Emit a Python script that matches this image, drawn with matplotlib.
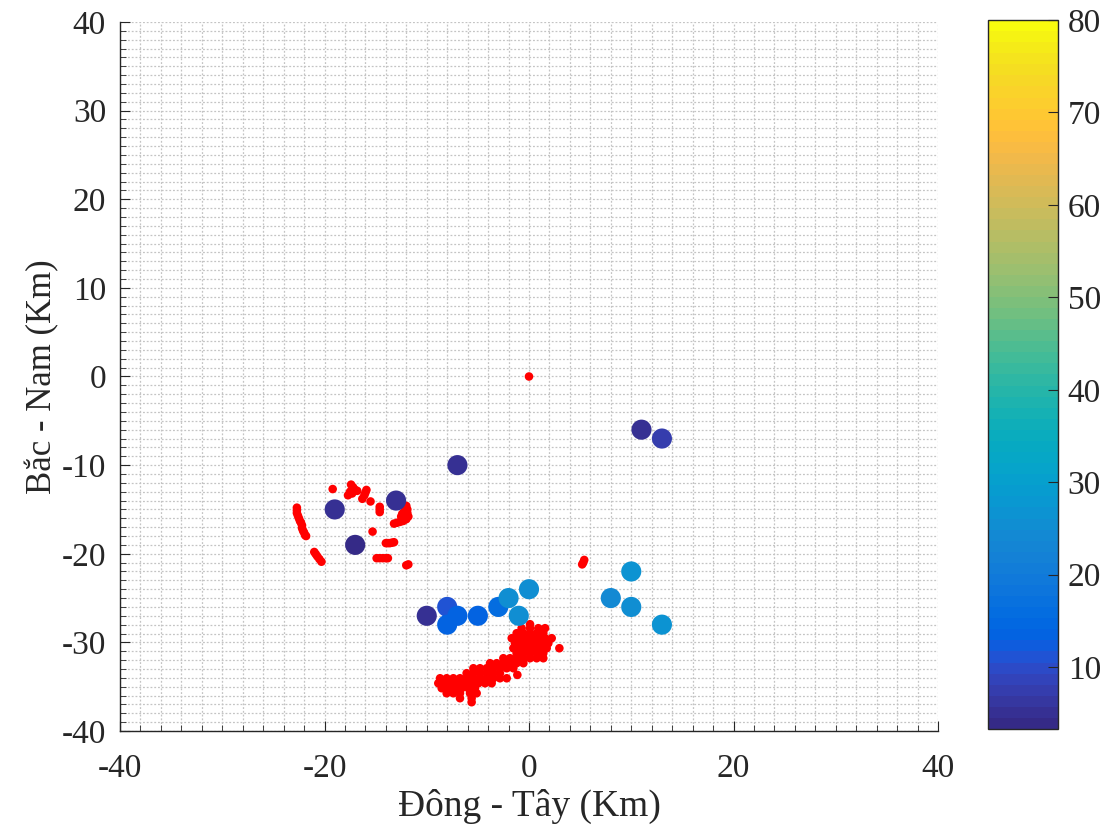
import numpy as np
import matplotlib
matplotlib.use("Agg")
import matplotlib.pyplot as plt
from matplotlib.colors import ListedColormap
from matplotlib.ticker import MultipleLocator

plt.rcParams['font.family'] = ['Liberation Serif', 'DejaVu Serif']
plt.rcParams['axes.unicode_minus'] = False

# Muc tieu (km) va gia tri mau
muc_tieu_x = [-19, -13, -17, -7, 11, 13, -10, -8, -8, -7, -5, -3, -2, -1, 0, 8, 10, 10, 13]
muc_tieu_y = [-15, -14, -19, -10, -6, -7, -27, -26, -28, -27, -27, -26, -25, -27, -24, -25, -22, -26, -28]
muc_tieu_v = [4.5, 5.5, 4.0, 4.5, 4.5, 7.5, 4.5, 11, 13.5, 13.5, 13.5, 16, 26, 26, 26, 24, 27, 26, 27]

# Nhieu quanh vung phia tay bac
vong_x = [-19.2, -17.4, -17.2, -17.0, -16.8, -17.7, -17.5, -17.3,
          -15.9, -16.0, -16.1, -16.3, -15.5, -14.6, -14.6, -14.6,
          -12.0, -11.9, -11.9, -11.8, -12.0, -12.3, -12.6, -12.9, -13.2, -12.5, -12.2, -12.4,
          -15.3, -14.0, -13.8, -13.6, -13.4, -13.2, -14.9, -14.6, -14.3, -14.0, -13.8, -11.8, -12.0,
          -22.7, -22.7, -22.7, -22.6, -22.5, -22.4, -22.3, -22.2, -22.2, -22.1, -22.0, -21.9, -21.8,
          -21.0, -20.85, -20.7, -20.5, -20.3,
          5.2, 5.3, 5.4, 0.0]
vong_y = [-12.7, -12.2, -12.5, -12.8, -12.9, -13.4, -13.0, -13.2,
          -12.8, -13.1, -13.4, -13.8, -14.1, -14.7, -15.0, -15.3,
          -14.6, -15.0, -15.4, -15.8, -16.1, -16.3, -16.4, -16.5, -16.6, -15.8, -15.2, -15.5,
          -17.5, -18.8, -18.8, -18.8, -18.75, -18.7, -20.5, -20.5, -20.5, -20.5, -20.5, -21.2, -21.3,
          -14.8, -15.1, -15.4, -15.7, -16.0, -16.3, -16.5, -16.8, -17.1, -17.4, -17.6, -17.9, -18.0,
          -19.8, -20.05, -20.3, -20.6, -20.9,
          -21.2, -21.0, -20.7, 0.0]

# Cum nhieu phia nam
cum_x = [-8.70, -8.05, -7.40, -6.75, -6.10,
         -8.87, -8.22, -7.56, -6.91, -6.26, -5.61, -4.95,
         -8.54, -7.89, -7.24, -6.59, -5.93, -5.28,
         -8.05, -7.40, -6.75, -5.77, -5.12,
         -6.75, -5.61, -5.61,
         -6.10, -5.44, -4.79, -4.14, -3.49, -2.84,
         -5.44, -4.79, -4.14, -3.49, -2.84, -2.18, -1.53,
         -5.44, -4.79, -4.14, -3.49, -2.84, -2.18,
         -4.30, -3.65,
         -3.81, -3.16, -2.51, -1.86, -1.21, -0.55,
         -2.51, -1.86, -1.21, -0.55, 0.10, 0.75, 1.40,
         -1.21, -0.55, 0.10, 0.75, 1.40,
         -1.53, -0.88, -0.23, 0.42, 1.08, 1.73,
         -1.37, -0.72, -0.07, 0.59, 1.24, 1.89,
         -1.69, -1.04, -0.39, 0.26, 0.91, 1.57, 2.22,
         -1.21, -0.55, 0.10, 0.75, 1.40,
         -0.72, 0.10, 0.91, 1.57, 0.10,
         -1.14, 2.97]
cum_y = [-34.05, -34.05, -34.05, -34.05, -34.05,
         -34.61, -34.61, -34.61, -34.61, -34.61, -34.61, -34.61,
         -35.17, -35.17, -35.17, -35.17, -35.17, -35.17,
         -35.74, -35.74, -35.74, -35.74, -35.74,
         -36.30, -36.30, -36.75,
         -33.48, -33.48, -33.48, -33.48, -33.48, -33.48,
         -32.92, -32.92, -32.92, -32.92, -32.92, -32.92, -32.92,
         -34.05, -34.05, -34.05, -34.05, -34.05, -34.05,
         -34.61, -34.61,
         -32.35, -32.35, -32.35, -32.35, -32.35, -32.35,
         -31.79, -31.79, -31.79, -31.79, -31.79, -31.79, -31.79,
         -31.23, -31.23, -31.23, -31.23, -31.23,
         -30.66, -30.66, -30.66, -30.66, -30.66, -30.66,
         -30.10, -30.10, -30.10, -30.10, -30.10, -30.10,
         -29.53, -29.53, -29.53, -29.53, -29.53, -29.53, -29.53,
         -28.97, -28.97, -28.97, -28.97, -28.97,
         -28.40, -28.40, -28.40, -28.40, -27.95,
         -33.67, -30.66]

# Bang mau parula (64 muc)
parula = [
    (0.2081, 0.1663, 0.5292), (0.2116, 0.1898, 0.5777), (0.2123, 0.2138, 0.6270), (0.2081, 0.2386, 0.6771),
    (0.1959, 0.2645, 0.7279), (0.1707, 0.2919, 0.7792), (0.1253, 0.3242, 0.8303), (0.0591, 0.3598, 0.8683),
    (0.0117, 0.3875, 0.8820), (0.0060, 0.4086, 0.8828), (0.0165, 0.4266, 0.8786), (0.0329, 0.4430, 0.8720),
    (0.0498, 0.4586, 0.8641), (0.0629, 0.4737, 0.8554), (0.0723, 0.4887, 0.8467), (0.0779, 0.5040, 0.8384),
    (0.0793, 0.5200, 0.8312), (0.0749, 0.5375, 0.8263), (0.0641, 0.5570, 0.8240), (0.0488, 0.5772, 0.8228),
    (0.0343, 0.5966, 0.8199), (0.0265, 0.6137, 0.8135), (0.0239, 0.6287, 0.8038), (0.0231, 0.6418, 0.7913),
    (0.0228, 0.6535, 0.7768), (0.0267, 0.6642, 0.7607), (0.0384, 0.6743, 0.7436), (0.0590, 0.6838, 0.7254),
    (0.0843, 0.6928, 0.7062), (0.1133, 0.7015, 0.6859), (0.1453, 0.7098, 0.6646), (0.1801, 0.7177, 0.6424),
    (0.2178, 0.7250, 0.6193), (0.2586, 0.7317, 0.5954), (0.3022, 0.7376, 0.5712), (0.3482, 0.7424, 0.5473),
    (0.3953, 0.7459, 0.5244), (0.4420, 0.7481, 0.5033), (0.4871, 0.7491, 0.4840), (0.5300, 0.7491, 0.4661),
    (0.5709, 0.7485, 0.4494), (0.6099, 0.7473, 0.4337), (0.6473, 0.7456, 0.4188), (0.6834, 0.7435, 0.4044),
    (0.7184, 0.7411, 0.3905), (0.7525, 0.7384, 0.3768), (0.7858, 0.7356, 0.3633), (0.8185, 0.7327, 0.3498),
    (0.8507, 0.7299, 0.3360), (0.8824, 0.7274, 0.3217), (0.9139, 0.7258, 0.3063), (0.9450, 0.7261, 0.2886),
    (0.9739, 0.7314, 0.2666), (0.9938, 0.7455, 0.2403), (0.9990, 0.7653, 0.2164), (0.9955, 0.7861, 0.1967),
    (0.9880, 0.8066, 0.1794), (0.9789, 0.8271, 0.1633), (0.9697, 0.8481, 0.1475), (0.9626, 0.8705, 0.1309),
    (0.9589, 0.8949, 0.1132), (0.9598, 0.9218, 0.0948), (0.9661, 0.9514, 0.0755), (0.9763, 0.9831, 0.0538)]
cmap = ListedColormap(parula)

W, H = 1110, 830
fig = plt.figure(figsize=(W / 100, H / 100), dpi=100)
ax = fig.add_axes([120 / W, 1 - 731 / H, 818 / W, 709 / H])
cax = fig.add_axes([988 / W, 1 - 729 / H, 70 / W, 709 / H])

ax.scatter(vong_x + cum_x, vong_y + cum_y, s=38, c='red', edgecolors='none', zorder=3)
sc = ax.scatter(muc_tieu_x, muc_tieu_y, s=210, c=muc_tieu_v, cmap=cmap, vmin=3.3, vmax=80,
                edgecolors='none', zorder=4)

ax.set_xlim(-40, 40)
ax.set_ylim(-40, 40)
ax.xaxis.set_major_locator(MultipleLocator(20))
ax.xaxis.set_minor_locator(MultipleLocator(2))
ax.yaxis.set_major_locator(MultipleLocator(10))
ax.yaxis.set_minor_locator(MultipleLocator(1))
ax.grid(which='both', color='#c4c4c4', linestyle=(0, (1.5, 1.5)), linewidth=0.9)
ax.set_axisbelow(True)
for s in ['top', 'right']:
    ax.spines[s].set_visible(False)
for s in ['left', 'bottom']:
    ax.spines[s].set_color('#262626')
    ax.spines[s].set_linewidth(1.0)
ax.tick_params(which='both', direction='in', colors='#262626', labelsize=24)
ax.tick_params(which='major', length=7)
ax.tick_params(which='minor', length=4)
ax.tick_params(axis='x', pad=16)
ax.tick_params(axis='y', pad=10)
ax.set_xlabel('Đông - Tây (Km)', fontsize=27, color='#262626', labelpad=4)
ax.set_ylabel('Bắc - Nam (Km)', fontsize=25, color='#262626', labelpad=2)

cb = fig.colorbar(sc, cax=cax, ticks=range(10, 81, 10))
cb.outline.set_edgecolor('#262626')
cb.outline.set_linewidth(1.0)
cax.tick_params(direction='in', length=7, labelsize=24, colors='#262626', pad=7)

fig.savefig('out.png', dpi=100)
